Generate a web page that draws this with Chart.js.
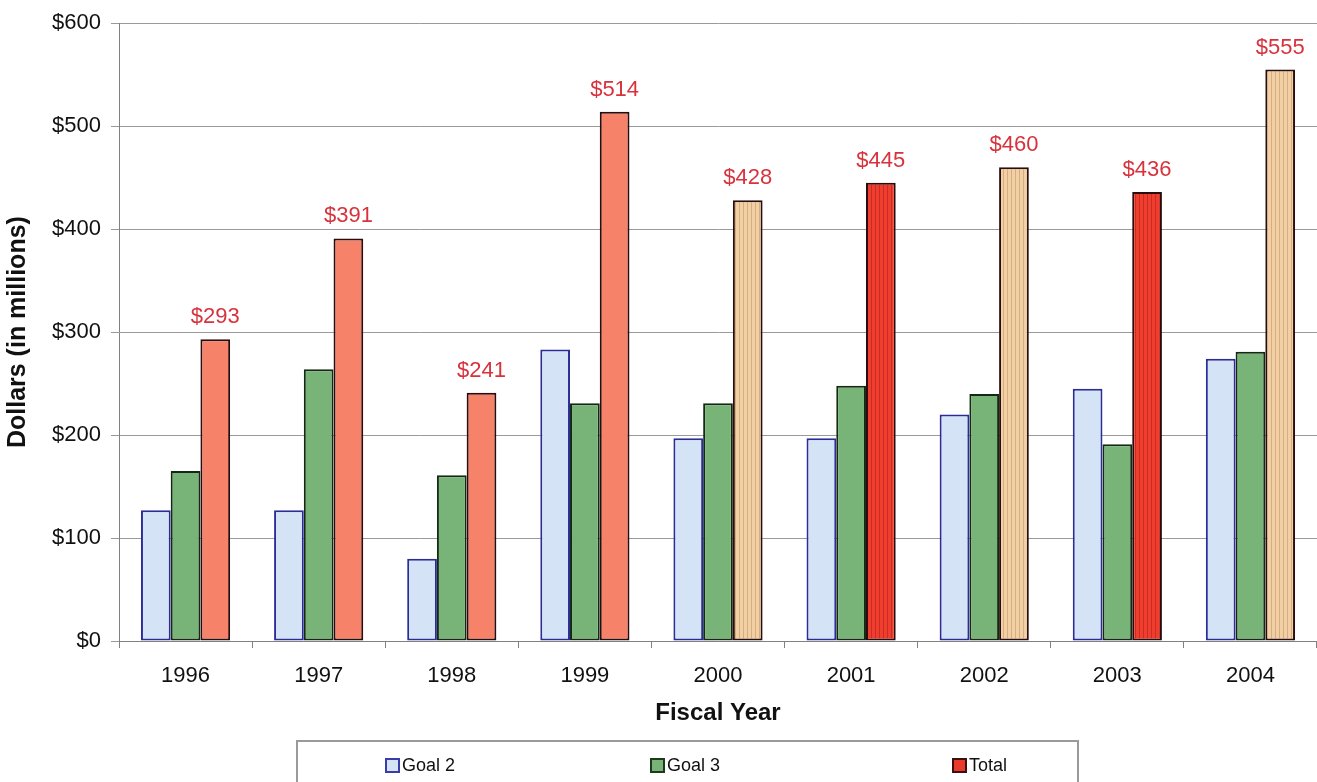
<!DOCTYPE html>
<html>
<head>
<meta charset="utf-8">
<script src="https://cdn.jsdelivr.net/npm/chart.js@4.4.1/dist/chart.umd.min.js"></script>
<style>
  html, body { margin: 0; padding: 0; background: #fff; }
  #wrap { width: 1317px; height: 782px; }
</style>
</head>
<body>
<div id="wrap"><canvas id="grafica" width="1317" height="782"></canvas></div>
<script>
const years = ['1996', '1997', '1998', '1999', '2000', '2001', '2002', '2003', '2004'];
const goal2 = [127, 127, 80, 283, 197, 197, 220, 245, 274];
const goal3 = [165, 264, 161, 231, 231, 248, 240, 191, 281];
const total = [293, 391, 241, 514, 428, 445, 460, 436, 555];
const yTicks = [0, 100, 200, 300, 400, 500, 600];
// relleno de cada barra Total: liso, rayas beige, rayas rojas
const totalKind = ['plain', 'plain', 'plain', 'plain', 'tan', 'red', 'tan', 'red', 'tan'];

const canvas = document.getElementById('grafica');
const ctx = canvas.getContext('2d');

function rayas(base, linea) {
    const c = document.createElement('canvas');
    c.width = 4; c.height = 4;
    const g = c.getContext('2d');
    g.fillStyle = base;
    g.fillRect(0, 0, 4, 4);
    g.fillStyle = linea;
    g.fillRect(3, 0, 1, 4);
    return ctx.createPattern(c, 'repeat');
}

const fills = {
    plain: '#f7826a',
    tan: rayas('#f0d0a4', '#d8ac7c'),
    red: rayas('#f03e2e', '#c82c22')
};

const FONT = "'Liberation Sans', Arial, sans-serif";

// etiquetas de valor sobre las barras Total
const etiquetas = {
    id: 'etiquetas',
    afterDatasetsDraw(chart) {
        const meta = chart.getDatasetMeta(2);
        const c = chart.ctx;
        c.save();
        c.fillStyle = '#d8323c';
        c.font = '22px ' + FONT;
        c.textAlign = 'center';
        c.textBaseline = 'alphabetic';
        meta.data.forEach((bar, i) => {
            c.fillText('$' + total[i], bar.x, bar.y - 16);
        });
        c.restore();
    }
};

// leyenda con marco, como en el original
const leyenda = {
    id: 'leyenda',
    afterDraw(chart) {
        const c = chart.ctx;
        const items = [
            { text: 'Goal 2', fill: '#d4e4f6', border: '#3a3aa8', x: 386 },
            { text: 'Goal 3', fill: '#78b478', border: '#1e3a1e', x: 651 },
            { text: 'Total', fill: '#e8392a', border: '#3a1010', x: 953 }
        ];
        c.save();
        c.strokeStyle = '#9a9a9a';
        c.lineWidth = 2;
        c.strokeRect(297, 741, 781, 60);
        c.font = '18px ' + FONT;
        c.textBaseline = 'middle';
        c.textAlign = 'left';
        items.forEach(it => {
            c.fillStyle = it.fill;
            c.fillRect(it.x, 759, 13, 13);
            c.strokeStyle = it.border;
            c.lineWidth = 2;
            c.strokeRect(it.x, 759, 13, 13);
            c.fillStyle = '#111';
            c.fillText(it.text, it.x + 16, 766);
        });
        c.restore();
    }
};

new Chart(canvas, {
    type: 'bar',
    data: {
        labels: years,
        datasets: [{
            label: 'Goal 2',
            data: goal2,
            backgroundColor: '#d4e4f6',
            borderColor: '#2c2c96',
            borderWidth: 2,
            borderSkipped: false
        }, {
            label: 'Goal 3',
            data: goal3,
            backgroundColor: '#78b478',
            borderColor: '#142814',
            borderWidth: 2,
            borderSkipped: false
        }, {
            label: 'Total',
            data: total,
            backgroundColor: totalKind.map(k => fills[k]),
            borderColor: '#2a0c0c',
            borderWidth: 2,
            borderSkipped: false
        }]
    },
    options: {
        responsive: false,
        animation: false,
        devicePixelRatio: 1,
        layout: { padding: { top: 7, right: 0, left: 0, bottom: 47 } },
        datasets: {
            bar: { categoryPercentage: 0.67, barPercentage: 1.0 }
        },
        scales: {
            x: {
                grid: {
                    display: true,
                    drawOnChartArea: false,
                    drawTicks: true,
                    tickLength: 7,
                    color: '#808080',
                    lineWidth: 1
                },
                border: { color: '#808080', width: 1 },
                ticks: { color: '#111', font: { family: FONT, size: 22 }, padding: 15 },
                title: {
                    display: true,
                    text: 'Fiscal Year',
                    color: '#111',
                    font: { family: FONT, size: 24, weight: 'bold' },
                    padding: { top: 0, bottom: 7 }
                },
                afterFit(scale) { scale.height = 94; }
            },
            y: {
                min: 0,
                max: 600,
                afterBuildTicks(scale) { scale.ticks = yTicks.map(v => ({ value: v })); },
                grid: {
                    color: '#9a9a9a',
                    lineWidth: 1,
                    drawTicks: true,
                    tickLength: 8
                },
                border: { color: '#808080', width: 1 },
                ticks: {
                    color: '#111',
                    font: { family: FONT, size: 22 },
                    padding: 10,
                    callback: v => '$' + v
                },
                title: {
                    display: true,
                    text: 'Dollars (in millions)',
                    color: '#111',
                    font: { family: FONT, size: 25, weight: 'bold' },
                    padding: { top: 3, bottom: 0 }
                },
                afterFit(scale) { scale.width = 119; }
            }
        },
        plugins: {
            legend: { display: false },
            tooltip: { enabled: false }
        }
    },
    plugins: [etiquetas, leyenda]
});
</script>
</body>
</html>
